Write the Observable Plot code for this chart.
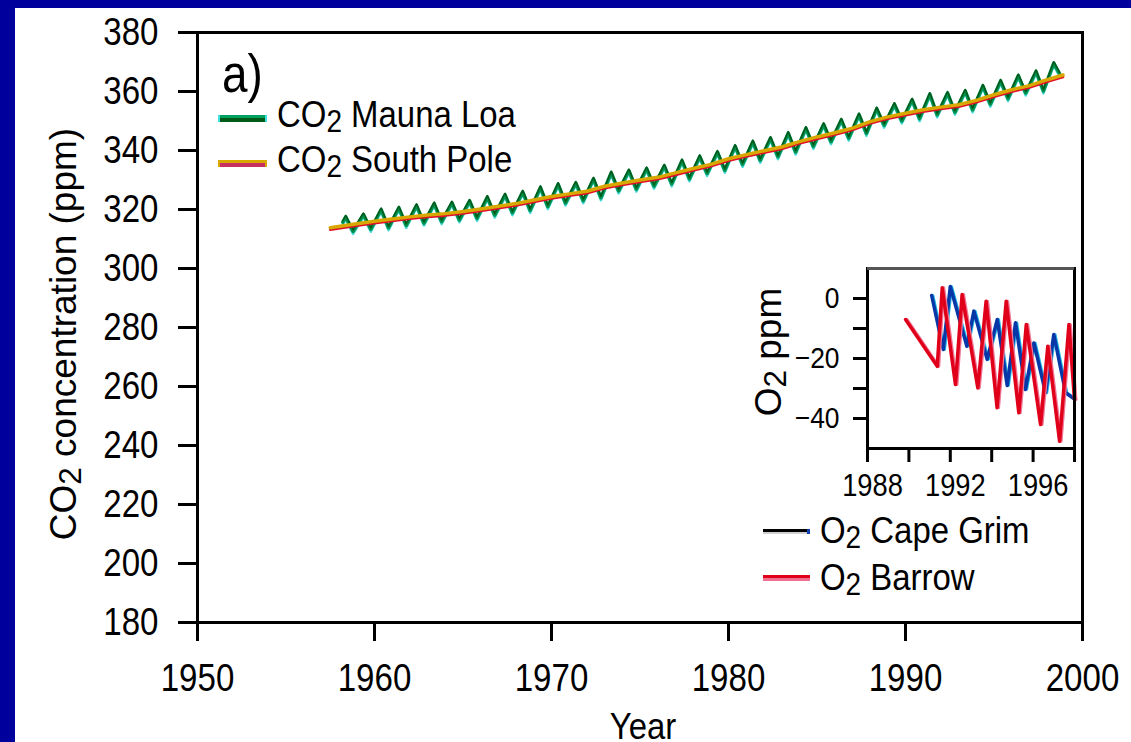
<!DOCTYPE html>
<html>
<head>
<meta charset="utf-8">
<script src="https://cdn.jsdelivr.net/npm/d3@7"></script>
<script src="https://cdn.jsdelivr.net/npm/@observablehq/plot@0.6"></script>
<style>
  html, body { margin: 0; padding: 0; }
  body { width: 1131px; height: 742px; background: #00009c; overflow: hidden; position: relative; }
  #panel { position: absolute; left: 15px; top: 8px; width: 1116px; height: 734px; background: #fff; overflow: hidden;
           font-family: "Liberation Sans", Arial, Helvetica, sans-serif; color: #000; }
  #panel svg { position: absolute; overflow: visible; }
  .t { position: absolute; line-height: 1; white-space: nowrap; }
  .t sub { font-size: 0.85em; vertical-align: -0.17em; line-height: 0; }
  .swatch { position: absolute; box-sizing: border-box; }
</style>
</head>
<body>
<div id="panel"></div>
<script>
// Panel offset inside the blue border (page coordinates)
const OX = 15, OY = 8;

// ---- Main chart: atmospheric CO2 (ppm) ----
const xTicks = [1950, 1960, 1970, 1980, 1990, 2000];
const yTicks = [180, 200, 220, 240, 260, 280, 300, 320, 340, 360, 380];

// Mauna Loa: [year, month, ppm] — seasonal maxima (May) and minima (Oct)
const maunaLoa = [
  [1958, 3, 315.7], [1958, 5, 317.5], [1958, 10, 312.6],
  [1959, 5, 318.3], [1959, 10, 313.3],
  [1960, 5, 320.0], [1960, 10, 313.8],
  [1961, 5, 320.6], [1961, 10, 314.6],
  [1962, 5, 321.4], [1962, 10, 315.4],
  [1963, 5, 322.0], [1963, 10, 315.9],
  [1964, 5, 322.3], [1964, 10, 316.5],
  [1965, 5, 322.9], [1965, 10, 317.0],
  [1966, 5, 324.2], [1966, 10, 318.1],
  [1967, 5, 325.0], [1967, 10, 318.9],
  [1968, 5, 326.0], [1968, 10, 319.7],
  [1969, 5, 327.5], [1969, 10, 321.0],
  [1970, 5, 328.6], [1970, 10, 322.2],
  [1971, 5, 329.0], [1971, 10, 323.0],
  [1972, 5, 330.4], [1972, 10, 324.0],
  [1973, 5, 332.5], [1973, 10, 326.3],
  [1974, 5, 333.2], [1974, 10, 326.9],
  [1975, 5, 333.9], [1975, 10, 327.9],
  [1976, 5, 334.8], [1976, 10, 328.7],
  [1977, 5, 336.6], [1977, 10, 330.4],
  [1978, 5, 338.0], [1978, 10, 332.2],
  [1979, 5, 339.5], [1979, 10, 333.3],
  [1980, 5, 341.5], [1980, 10, 335.3],
  [1981, 5, 343.0], [1981, 10, 336.7],
  [1982, 5, 344.2], [1982, 10, 337.9],
  [1983, 5, 345.9], [1983, 10, 339.5],
  [1984, 5, 347.6], [1984, 10, 341.4],
  [1985, 5, 348.9], [1985, 10, 343.0],
  [1986, 5, 350.4], [1986, 10, 344.2],
  [1987, 5, 352.2], [1987, 10, 345.8],
  [1988, 5, 354.2], [1988, 10, 348.6],
  [1989, 5, 355.7], [1989, 10, 350.0],
  [1990, 5, 357.2], [1990, 10, 350.8],
  [1991, 5, 359.1], [1991, 10, 352.1],
  [1992, 5, 359.5], [1992, 10, 353.0],
  [1993, 5, 360.2], [1993, 10, 353.8],
  [1994, 5, 361.9], [1994, 10, 355.7],
  [1995, 5, 363.6], [1995, 10, 357.6],
  [1996, 5, 365.4], [1996, 10, 359.5],
  [1997, 5, 366.8], [1997, 10, 360.2],
  [1998, 5, 369.6], [1998, 9, 366.0]
];

// South Pole: smoother record, one value per year
const southPoleYear = [1957.5, 1959, 1960, 1961, 1962, 1963, 1964, 1965, 1966, 1967, 1968, 1969,
  1970, 1971, 1972, 1973, 1974, 1975, 1976, 1977, 1978, 1979, 1980, 1981, 1982, 1983, 1984,
  1985, 1986, 1987, 1988, 1989, 1990, 1991, 1992, 1993, 1994, 1995, 1996, 1997, 1998, 1998.9];
const southPolePpm = [313.8, 315.2, 316.0, 316.8, 317.5, 318.1, 318.6, 319.3, 320.2, 321.1, 322.0, 323.2,
  324.4, 325.3, 326.2, 327.9, 329.0, 330.0, 330.9, 332.4, 333.9, 335.3, 337.2, 338.6, 339.9, 341.2, 343.0,
  344.6, 346.0, 347.6, 349.8, 351.4, 352.6, 353.8, 354.7, 355.5, 357.0, 358.9, 360.6, 362.0, 364.0, 365.6];

// ---- Inset: O2 (ppm, relative) ----
const insetXTicks = [1988, 1990, 1992, 1994, 1996, 1998];
const insetXLabels = [1988, 1992, 1996];
const insetYTicks = [-40, -30, -20, -10, 0];
const insetYLabels = [-40, -20, 0];

const capeGrimYear = [1991.1, 1991.66, 1992.0, 1992.8, 1993.14, 1993.78, 1994.27, 1994.75, 1995.15,
  1995.63, 1996.04, 1996.6, 1997.0, 1997.57, 1998.0];
const capeGrimO2 = [1.0, -17.0, 4.0, -15.9, -4.2, -20.3, -7.0, -29.0, -8.1, -30.3, -14.8, -31.4, -12.0, -31.4, -33.5];

const barrowYear = [1989.84, 1991.37, 1991.61, 1992.25, 1992.57, 1993.33, 1993.73, 1994.26, 1994.70,
  1995.31, 1995.67, 1996.36, 1996.71, 1997.28, 1997.73, 1998.0];
const barrowO2 = [-7.0, -22.6, 3.6, -28.7, 1.3, -29.8, -0.9, -36.4, -0.9, -38.1, -8.7, -42.0, -15.9, -47.6, -8.7, -33.7];

// ---- Tables built from the arrays ----
const ml = maunaLoa.map(([yr, mo, ppm]) => ({t: yr + (mo - 0.5) / 12, ppm}));
const sp = southPoleYear.map((t, i) => ({t, ppm: southPolePpm[i]}));
const cg = capeGrimYear.map((t, i) => ({t, o2: capeGrimO2[i]}));
const br = barrowYear.map((t, i) => ({t, o2: barrowO2[i]}));

const fontFamily = '"Liberation Sans", Arial, Helvetica, sans-serif';
const minusFmt = d => d < 0 ? "\u2212" + (-d) : String(d);

// Narrow the glyphs horizontally around each label's anchor
function condense(svg, k) {
  svg.querySelectorAll("text").forEach(t => {
    const tr = t.getAttribute("transform") || "";
    const x = parseFloat(t.getAttribute("x")) || 0;
    t.setAttribute("transform", `${tr} translate(${x},0) scale(${k},1) translate(${-x},0)`);
  });
}

const panel = document.getElementById("panel");

const main = Plot.plot({
  width: 1116, height: 734,
  marginLeft: 182, marginRight: 49, marginTop: 24, marginBottom: 120,
  style: {fontFamily, fontSize: "38px", background: "transparent", color: "#000"},
  x: {domain: [1950, 2000]},
  y: {domain: [180, 380]},
  marks: [
    Plot.line(ml, {x: "t", y: "ppm", stroke: "#45dada", strokeWidth: 2.5, dy: 2.5}),
    Plot.line(ml, {x: "t", y: "ppm", stroke: "#00904c", strokeWidth: 3.5}),
    Plot.line(ml, {x: "t", y: "ppm", stroke: "#005a1c", strokeWidth: 1.5, dy: -1.5}),
    Plot.line(sp, {x: "t", y: "ppm", stroke: "#e0102a", strokeWidth: 2.5, dy: 2}),
    Plot.line(sp, {x: "t", y: "ppm", stroke: "#d8a800", strokeWidth: 3.5}),
    Plot.axisX({ticks: xTicks, tickSize: 19, tickPadding: 23, tickFormat: d => String(d), label: null, strokeWidth: 3, fontSize: 38}),
    Plot.axisY({ticks: yTicks, tickSize: 19, tickPadding: 20, tickFormat: d => String(d), label: null, strokeWidth: 3, fontSize: 38}),
    Plot.frame({stroke: "#000", strokeWidth: 3})
  ]
});
condense(main, 0.87);
main.style.left = "0px";
main.style.top = "0px";
panel.appendChild(main);

const inset = Plot.plot({
  width: 350, height: 245,
  marginLeft: 127, marginRight: 16, marginTop: 13, marginBottom: 52,
  style: {fontFamily, fontSize: "30px", background: "transparent", color: "#000"},
  x: {domain: [1988, 1998]},
  y: {domain: [-50, 10]},
  marks: [
    Plot.line(cg, {x: "t", y: "o2", stroke: "#20b8e8", strokeWidth: 2.5, dx: 1.5}),
    Plot.line(cg, {x: "t", y: "o2", stroke: "#0838a8", strokeWidth: 3.5}),
    Plot.line(br, {x: "t", y: "o2", stroke: "#f07898", strokeWidth: 3, dx: 1.5}),
    Plot.line(br, {x: "t", y: "o2", stroke: "#e0001a", strokeWidth: 3.5}),
    // tick marks every two years, labels every four (nudged right)
    Plot.axisX({ticks: insetXTicks, tickSize: 14, tickFormat: () => "", label: null, strokeWidth: 3}),
    Plot.axisX({ticks: insetXLabels, tickSize: 0, tickPadding: 25, dx: 5,
      tickFormat: d => String(d), label: null, fontSize: 31}),
    Plot.axisY({ticks: insetYTicks, tickSize: 14, tickPadding: 14,
      tickFormat: d => insetYLabels.includes(d) ? minusFmt(d) : "", label: null, strokeWidth: 3, fontSize: 30}),
    Plot.frame({stroke: "#000", strokeWidth: 3}),
    Plot.ruleY([10], {stroke: "#555", strokeWidth: 3})
  ]
});
condense(inset, 0.88);
inset.style.left = (740 - OX) + "px";
inset.style.top = (255 - OY) + "px";
panel.appendChild(inset);

// ---- Text and legend (page coordinates) ----
function addText(html, x, baseline, size, k, align) {
  const d = document.createElement("div");
  d.className = "t";
  d.innerHTML = html;
  d.style.fontSize = size + "px";
  d.style.left = (x - OX) + "px";
  d.style.top = (baseline - 0.8465 * size - OY) + "px";
  if (align === "center") {
    d.style.transformOrigin = "center";
    d.style.transform = `translateX(-50%) scaleX(${k})`;
  } else {
    d.style.transformOrigin = "left center";
    d.style.transform = `scaleX(${k})`;
  }
  panel.appendChild(d);
}
function addVText(html, cx, cy, size) {
  const d = document.createElement("div");
  d.className = "t";
  d.innerHTML = html;
  d.style.fontSize = size + "px";
  d.style.left = (cx - OX) + "px";
  d.style.top = (cy - OY) + "px";
  d.style.transform = "translate(-50%, -50%) rotate(-90deg)";
  panel.appendChild(d);
}
function addSwatch(x, y, w, h, background, extra) {
  const d = document.createElement("div");
  d.className = "swatch";
  d.style.left = (x - OX) + "px";
  d.style.top = (y - OY) + "px";
  d.style.width = w + "px";
  d.style.height = h + "px";
  d.style.background = background;
  if (extra) Object.assign(d.style, extra);
  panel.appendChild(d);
}

addText("a)", 222, 92, 54, 0.85);

addSwatch(218, 115, 49, 7, "linear-gradient(to bottom, #00a060 0 40%, #005a18 40% 100%)",
  {borderLeft: "2px solid #40e0e0", borderRight: "2px solid #40e0e0"});
addText("CO<sub>2</sub> Mauna Loa", 277, 127, 37, 0.89);
addSwatch(218, 160, 49, 7, "linear-gradient(to bottom, #d8a800 0 45%, #c83060 45% 100%)",
  {borderLeft: "2px solid #d8a800", borderRight: "2px solid #d8a800"});
addText("CO<sub>2</sub> South Pole", 277, 172, 37, 0.89);

addSwatch(763, 529, 47, 5, "linear-gradient(to bottom, #000 0 60%, #d0d0d0 60% 100%)",
  {borderRight: "3px solid #1040b0"});
addText("O<sub>2</sub> Cape Grim", 820, 543, 37, 0.89);
addSwatch(763, 575, 47, 6, "linear-gradient(to bottom, #e0001a 0 55%, #f07090 55% 100%)");
addText("O<sub>2</sub> Barrow", 820, 590, 37, 0.89);

addVText("CO<sub>2</sub> concentration (ppm)", 63, 334, 37);
addVText("O<sub>2</sub> ppm", 768, 352, 37);
addText("Year", 643, 739, 37, 0.89, "center");
</script>
</body>
</html>
